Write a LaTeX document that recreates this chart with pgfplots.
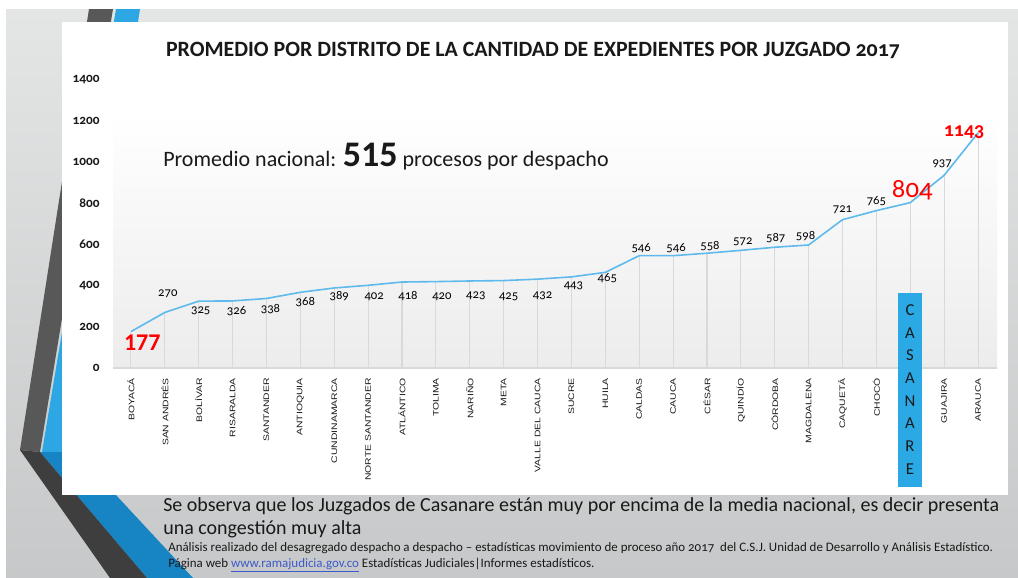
\documentclass[border=0pt]{standalone}
\usepackage{fontspec}
\setmainfont{Carlito}
\newfontfamily\onum[Numbers=OldStyle]{Carlito}
\newfontfamily\catfont[FakeStretch=1.3]{Liberation Sans}
\usepackage{pgfplots}
\pgfplotsset{compat=1.18}
\definecolor{slidetop}{RGB}{228,229,229}
\definecolor{slidebot}{RGB}{198,200,201}
\definecolor{darkA}{RGB}{88,88,88}
\definecolor{darkB}{RGB}{62,62,62}
\definecolor{blueA}{RGB}{44,167,228}
\definecolor{blueB}{RGB}{23,132,196}
\definecolor{lineblue}{RGB}{94,186,236}
\definecolor{casblue}{RGB}{42,169,229}
\definecolor{plotbg}{RGB}{236,236,236}
\definecolor{txt}{RGB}{25,25,25}
\definecolor{linkblue}{RGB}{60,90,200}

\pgfplotstableread{
x y
0 177
1 270
2 325
3 326
4 338
5 368
6 389
7 402
8 418
9 420
10 423
11 425
12 432
13 443
14 465
15 546
16 546
17 558
18 572
19 587
20 598
21 721
22 765
23 804
24 937
25 1143
}\distritos

\begin{document}
\begin{tikzpicture}
% slide background, 1px = 0.75pt
\begin{scope}[x=0.75pt,y=-0.75pt]
\fill[white] (0,0) rectangle (1018,578);
\fill[top color=slidetop, bottom color=slidebot] (6,9) rectangle (1018,578);
\fill[blueA] (116,9) -- (140,9) -- (70,452) -- (42,452) -- cycle;
\fill[blueB] (40,452) -- (76,452) -- (193,578) -- (147,578) -- cycle;
\fill[darkA] (89,9) -- (113,9) -- (40,452) -- (20,450) -- cycle;
\fill[darkB] (20,450) -- (40,452) -- (147,578) -- (110,578) -- cycle;
\fill[white] (62,22) rectangle (1008,495);
\end{scope}

\begin{axis}[
    at={(84.75pt,-276pt)}, anchor=south west,
    scale only axis, width=663pt, height=216pt,
    xmin=-0.53, xmax=25.56, ymin=0, ymax=1400,
    axis line style={draw=none}, major tick length=0pt,
    clip=false,
    xtick={0,...,25},
    xticklabels={BOYACÁ, SAN ANDRÉS, BOLÍVAR, RISARALDA, SANTANDER, ANTIOQUIA,
        CUNDINAMARCA, NORTE SANTANDER, ATLÁNTICO, TOLIMA, NARIÑO, META,
        VALLE DEL CAUCA, SUCRE, HUILA, CALDAS, CAUCA, CÉSAR, QUINDÍO, CÓRDOBA,
        MAGDALENA, CAQUETÁ, CHOCÓ, {}, GUAJIRA, ARAUCA},
    xticklabel style={font=\catfont\fontsize{6}{7}\selectfont, rotate=90,
        anchor=east, inner sep=0pt, text=txt},
    xticklabel shift=7.5pt,
    ytick={0,200,...,1400},
    yticklabels={0,200,400,600,800,1000,1200,1400},
    yticklabel style={font=\onum\bfseries\fontsize{10}{12}\selectfont,
        anchor=east, inner sep=0pt, text=txt},
    yticklabel shift=9.75pt,
]
\fill[top color=white, bottom color=plotbg]
    (axis cs:-0.53,0) rectangle (axis cs:25.56,1240);
\draw[gray!30, line width=0.8pt] (axis cs:-0.53,0) -- (axis cs:25.56,0);
\addplot[ycomb, draw=gray!30, line width=0.8pt, no marks] table[x=x, y=y] {\distritos};
\addplot[lineblue, line width=1.2pt, no marks] table[x=x, y=y] {\distritos};

% data labels
\node[text=red, font=\bfseries\fontsize{18}{20}\selectfont] at (axis cs:0,177) [xshift=8.5pt, yshift=-8pt] {177};
\node[font=\onum\fontsize{9.5}{11}\selectfont] at (axis cs:1,270) [xshift=2.25pt, yshift=14.25pt] {270};
\node[font=\onum\fontsize{9.5}{11}\selectfont] at (axis cs:2,325) [xshift=1.5pt, yshift=-7.5pt] {325};
\node[font=\onum\fontsize{9.5}{11}\selectfont] at (axis cs:3,326) [xshift=3pt, yshift=-7.5pt] {326};
\node[font=\onum\fontsize{9.5}{11}\selectfont] at (axis cs:4,338) [xshift=3pt, yshift=-8.25pt] {338};
\node[font=\onum\fontsize{9.5}{11}\selectfont] at (axis cs:5,368) [xshift=3.75pt, yshift=-7.5pt] {368};
\node[font=\onum\fontsize{9.5}{11}\selectfont] at (axis cs:6,389) [xshift=3.75pt, yshift=-6pt] {389};
\node[font=\onum\fontsize{9.5}{11}\selectfont] at (axis cs:7,402) [xshift=4.5pt, yshift=-8.25pt] {402};
\node[font=\onum\fontsize{9.5}{11}\selectfont] at (axis cs:8,418) [xshift=4.5pt, yshift=-10.5pt] {418};
\node[font=\onum\fontsize{9.5}{11}\selectfont] at (axis cs:9,420) [xshift=4.5pt, yshift=-11.25pt] {420};
\node[font=\onum\fontsize{9.5}{11}\selectfont] at (axis cs:10,423) [xshift=4.5pt, yshift=-11.25pt] {423};
\node[font=\onum\fontsize{9.5}{11}\selectfont] at (axis cs:11,425) [xshift=3.75pt, yshift=-12pt] {425};
\node[font=\onum\fontsize{9.5}{11}\selectfont] at (axis cs:12,432) [xshift=3.75pt, yshift=-12.75pt] {432};
\node[font=\onum\fontsize{9.5}{11}\selectfont] at (axis cs:13,443) [xshift=1.5pt, yshift=-6.75pt] {443};
\node[font=\onum\fontsize{9.5}{11}\selectfont] at (axis cs:14,465) [xshift=1.5pt, yshift=-4.5pt] {465};
\node[font=\onum\fontsize{9.5}{11}\selectfont] at (axis cs:15,546) [xshift=1.5pt, yshift=6pt] {546};
\node[font=\onum\fontsize{9.5}{11}\selectfont] at (axis cs:16,546) [xshift=2.25pt, yshift=6pt] {546};
\node[font=\onum\fontsize{9.5}{11}\selectfont] at (axis cs:17,558) [xshift=2.25pt, yshift=5.25pt] {558};
\node[font=\onum\fontsize{9.5}{11}\selectfont] at (axis cs:18,572) [xshift=1.5pt, yshift=6.75pt] {572};
\node[font=\onum\fontsize{9.5}{11}\selectfont] at (axis cs:19,587) [xshift=0.75pt, yshift=6.75pt] {587};
\node[font=\onum\fontsize{9.5}{11}\selectfont] at (axis cs:20,598) [xshift=-2.25pt, yshift=6.75pt] {598};
\node[font=\onum\fontsize{9.5}{11}\selectfont] at (axis cs:21,721) [yshift=7.5pt] {721};
\node[font=\onum\fontsize{9.5}{11}\selectfont] at (axis cs:22,765) [yshift=7.5pt] {765};
\node[text=red, font=\onum\fontsize{20}{22}\selectfont] at (axis cs:23,804) [xshift=1.5pt, yshift=9pt] {804};
\node[font=\onum\fontsize{9.5}{11}\selectfont] at (axis cs:24,937) [xshift=-1.5pt, yshift=8.25pt] {937};
\node[text=red, font=\onum\bfseries\fontsize{15}{17}\selectfont] at (axis cs:25,1143) [xshift=-10.5pt, yshift=0.75pt] {1143};
\end{axis}

\begin{scope}[x=0.75pt,y=-0.75pt]
% title and annotation
\node[font=\bfseries\fontsize{16.4}{18}\selectfont, text=txt] at (533,50)
    {PROMEDIO POR DISTRITO DE LA CANTIDAD DE EXPEDIENTES POR JUZGADO {\onum 2017}};
\node[anchor=base west, font=\fontsize{16.5}{18}\selectfont, text=txt, inner sep=0pt] at (163,166)
    {Promedio nacional: {\bfseries\fontsize{27}{29}\selectfont 515} procesos por despacho};
% CASANARE box
\fill[casblue] (898,293) rectangle (922,487);
\foreach \c [count=\k from 0] in {C,A,S,A,N,A,R,E}
    \node[font=\fontsize{12.5}{14}\selectfont, text=txt] at (910,{310+22.7*\k}) {\c};
% comment below the chart
\node[anchor=base west, inner sep=0pt, font=\fontsize{15}{16}\selectfont, text=txt] at (163,511)
    {Se observa que los Juzgados de Casanare están muy por encima de la media nacional, es decir presenta};
\node[anchor=base west, inner sep=0pt, font=\fontsize{15}{16}\selectfont, text=txt] at (163,534)
    {una congestión muy alta};
\node[anchor=base west, inner sep=0pt, font=\fontsize{9.7}{10}\selectfont, text=txt] at (168,551)
    {Análisis realizado del desagregado despacho a despacho -- estadísticas movimiento de proceso año {\onum 2017}\ \ del C.S.J. Unidad de Desarrollo y Análisis Estadístico.};
\node[anchor=base west, inner sep=0pt, font=\fontsize{9.7}{10}\selectfont, text=txt] at (168,567)
    {Página web \textcolor{linkblue}{\underline{www.ramajudicia.gov.co}} Estadísticas Judiciales|Informes estadísticos.};
\end{scope}
\pgfresetboundingbox
\useasboundingbox (0,0) rectangle (763.5pt,-433.5pt);
\end{tikzpicture}
\end{document}
